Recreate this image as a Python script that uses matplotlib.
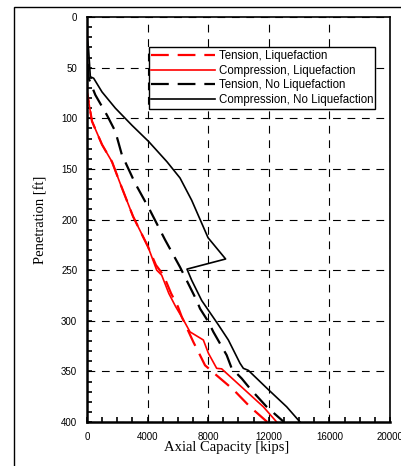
import matplotlib
matplotlib.use("Agg")
import matplotlib.pyplot as plt
from matplotlib.patches import Rectangle
from matplotlib.ticker import MultipleLocator

comp_noliq_depth = [20, 31, 59, 60.5, 74, 90, 107, 123, 143, 159, 181, 218, 239, 249,
                    260, 280, 304, 319, 342, 347, 349, 368, 385, 400]
comp_noliq_kips = [0, 100, 220, 440, 990, 1870, 2970, 4070, 5280, 6140, 6910, 7990, 9150, 6600,
                   6910, 7570, 8670, 9330, 10100, 10320, 10650, 11970, 13180, 14060]

tens_noliq_depth = [20, 60.5, 77, 97, 113, 136, 164, 191, 220, 247, 280, 288, 301, 311,
                    334, 347, 357, 367, 385, 400]
tens_noliq_kips = [0, 110, 550, 1320, 1870, 2300, 3170, 4160, 5150, 6140, 7240, 7460, 8010, 8340,
                   9220, 9550, 10210, 10760, 11860, 13000]

comp_liq_depth = [14.5, 74, 103, 126, 143, 164, 197, 227, 250, 255, 273, 286, 299, 311,
                  319, 332, 347, 347.5, 355, 373, 385, 400]
comp_liq_kips = [0, 0, 330, 990, 1650, 2180, 3040, 4030, 4600, 4930, 5400, 5850, 6360, 6800,
                 7680, 8010, 8560, 8890, 9440, 10760, 11640, 12520]

tens_liq_depth = [14.5, 74, 103, 126, 143, 164, 197, 227, 245, 255, 273, 286, 296, 321,
                  334, 344, 354, 368, 385, 400]
tens_liq_kips = [0, 0, 330, 990, 1650, 2180, 3040, 4030, 4550, 5050, 5550, 6000, 6250, 7020,
                 7460, 7790, 8560, 9660, 10760, 11900]

SANS = "Liberation Sans"
SERIF = "Liberation Serif"

fig = plt.figure(figsize=(4.02, 4.66), dpi=100)
fig.patch.set_facecolor("white")
# outer frame (partly cropped in the original)
fig.patches.append(Rectangle((14 / 402, -0.5), 2, 0.5 + 1 - 7 / 466,
                             transform=fig.transFigure, fill=False,
                             edgecolor="black", linewidth=1.0))

ax = fig.add_axes([87 / 402, 1 - 422 / 466, 303 / 402, 405 / 466])

ax.plot(tens_liq_kips, tens_liq_depth, color="red", lw=1.6, ls=(0, (8, 4)),
        label="Tension, Liquefaction")
ax.plot(comp_liq_kips, comp_liq_depth, color="red", lw=1.2,
        label="Compression, Liquefaction")
ax.plot(tens_noliq_kips, tens_noliq_depth, color="black", lw=1.6, ls=(0, (8, 4)),
        label="Tension, No Liquefaction")
ax.plot(comp_noliq_kips, comp_noliq_depth, color="black", lw=1.2,
        label="Compression, No Liquefaction")

ax.set_xlim(0, 20000)
ax.set_ylim(400, 0)
ax.xaxis.set_major_locator(MultipleLocator(4000))
ax.xaxis.set_minor_locator(MultipleLocator(1000))
ax.yaxis.set_major_locator(MultipleLocator(50))
ax.yaxis.set_minor_locator(MultipleLocator(10))
ax.grid(True, which="major", color="black", lw=0.8, ls=(0, (7, 6)))
ax.set_axisbelow(True)

ax.tick_params(which="both", direction="in", top=False, right=False, length=3.5, width=1.2)
ax.tick_params(axis="x", which="major", pad=7.5, labelsize=7)
ax.tick_params(axis="y", which="major", pad=7, labelsize=7)
for lab in ax.get_xticklabels() + ax.get_yticklabels():
    lab.set_fontfamily(SANS)
for sp in ax.spines.values():
    sp.set_linewidth(1.2)
ax.spines["left"].set_linewidth(1.8)
ax.spines["bottom"].set_linewidth(1.8)

ax.set_xlabel("Axial Capacity [kips]", fontfamily=SERIF, fontsize=10.5)
ax.set_ylabel("Penetration [ft]", fontfamily=SERIF, fontsize=10.5)
ax.xaxis.set_label_coords(0.46, -0.047)
ax.yaxis.set_label_coords(-0.13, 0.5)

leg = ax.legend(loc="upper right", bbox_to_anchor=(0.952, 0.925),
                prop={"family": SANS, "size": 8.3}, frameon=True, fancybox=False,
                edgecolor="black", framealpha=1, handlelength=5.5, handletextpad=0.35,
                labelspacing=0.25, borderpad=0.2, borderaxespad=0)
leg.get_frame().set_linewidth(1.0)

fig.savefig("out.png", dpi=100)
